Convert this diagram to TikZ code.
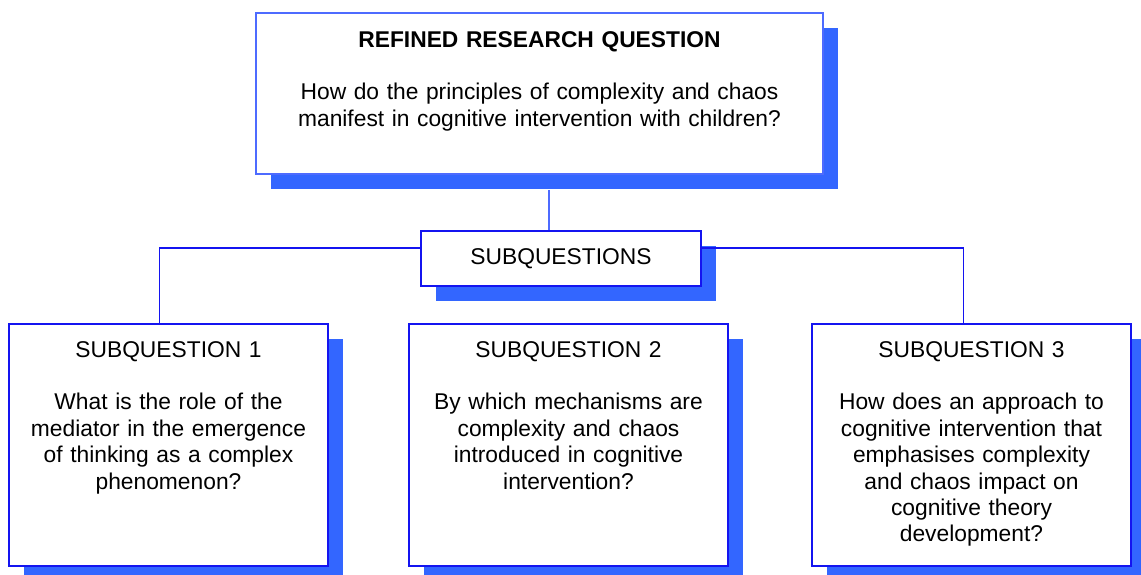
\documentclass[tikz,border=0pt]{standalone}
\usepackage{fontspec}
\setmainfont{Liberation Sans}
\usetikzlibrary{positioning, shadows}

\definecolor{rimblue}{HTML}{1414F0}
\definecolor{paleblue}{HTML}{4D6BFF}
\definecolor{shadowblue}{HTML}{3366FF}

\tikzset{
  qbox/.style={draw=rimblue, line width=1pt, fill=white, align=center,
    inner xsep=4pt, inner ysep=0pt, anchor=north west,
    drop shadow={shadow xshift=7.5pt, shadow yshift=-7.5pt, opacity=1, fill=shadowblue}},
  subbox/.style={qbox, text width=151.5pt, text height=16.5pt, text depth=104.5pt},
  link/.style={draw=rimblue, line width=0.9pt},
}

\begin{document}
\begin{tikzpicture}[x=0.5pt, y=-0.5pt, font=\fontsize{11.4}{13.2}\selectfont]
  \clip (0,0) rectangle (1141,574);

  % refined question
  \node[qbox, draw=paleblue, text width=275.5pt, text height=17pt, text depth=63.5pt] (rq) at (255,12)
    {\textbf{REFINED RESEARCH QUESTION}\\[13.2pt]
     How do the principles of complexity and chaos\\
     manifest in cognitive intervention with children?};

  % hub
  \node[qbox, minimum width=140pt, minimum height=27.5pt] (sub) at (420,230) {SUBQUESTIONS};

  % the three subquestions
  \node[subbox] (sq1) at (8,323)
    {SUBQUESTION 1\\[13.2pt]
     What is the role of the\\ mediator in the emergence\\ of thinking as a complex\\ phenomenon?};
  \node[subbox] (sq2) at (408,323)
    {SUBQUESTION 2\\[13.2pt]
     By which mechanisms are\\ complexity and chaos\\ introduced in cognitive\\ intervention?};
  \node[subbox] (sq3) at (811,323)
    {SUBQUESTION 3\\[13.2pt]
     How does an approach to\\ cognitive intervention that\\ emphasises complexity\\ and chaos impact on\\ cognitive theory\\ development?};

  % connectors
  \coordinate (fork) at (0,248);
  \draw[link, draw=paleblue, line width=1pt] ([yshift=-7.5pt]rq.south -| 549,0) -- (549,0 |- sub.north);
  \draw[link] (sub.west |- fork) -| ([xshift=-4.5pt]sq1.north);
  \draw[link] (sub.east |- fork) -| ([xshift=-4pt]sq3.north);
\end{tikzpicture}
\end{document}
